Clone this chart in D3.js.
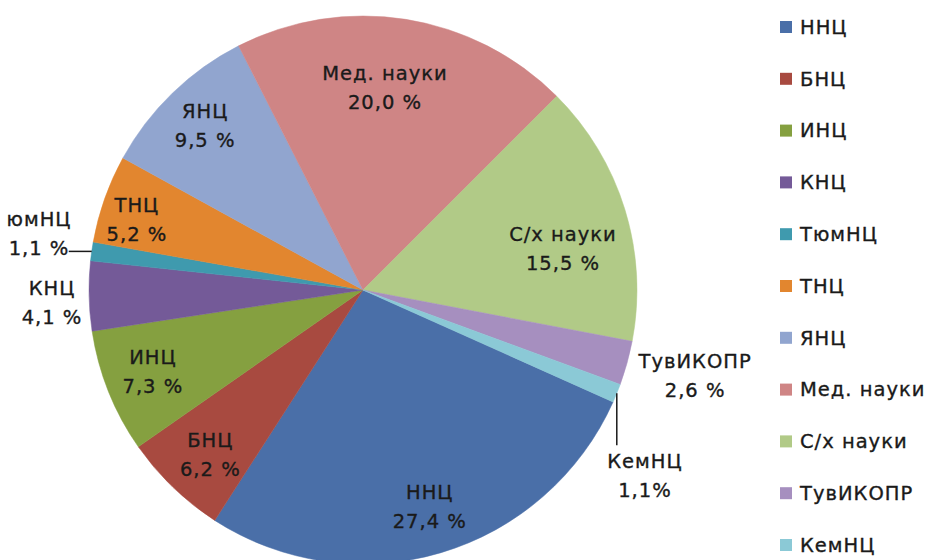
<!DOCTYPE html>
<html>
<head>
<meta charset="utf-8">
<script src="https://cdn.jsdelivr.net/npm/d3@7"></script>
<style>
  html, body { margin: 0; padding: 0; background: #fff; }
  svg { display: block; font-family: "DejaVu Sans", Verdana, sans-serif; }
</style>
</head>
<body>
<svg id="chart" width="932" height="560"></svg>
<script>
// ─── Data ─────────────────────────────────────────────────────────────────────

const categories = ["ННЦ", "БНЦ", "ИНЦ", "КНЦ", "ТюмНЦ", "ТНЦ", "ЯНЦ",
  "Мед. науки", "С/х науки", "ТувИКОПР", "КемНЦ"];
const shares = [27.4, 6.2, 7.3, 4.1, 1.1, 5.2, 9.5, 20.0, 15.5, 2.6, 1.1];
const colors = ["#4a6fa8", "#a84a40", "#85a040", "#745a98", "#3f9aae", "#e2862f",
  "#91a5cf", "#cf8585", "#b1ca87", "#a68fbf", "#8bc9d6"];

// label placement: radius factor, angle nudge (deg), leader type
const labelLayout = [
  { k: 0.826, nudge: -0.6 },
  { k: 0.82, nudge: -1.1 },
  { k: 0.823, nudge: 0.5 },
  { k: 1.136, nudge: -1.1 },
  { k: 1.2, nudge: 1.7, leader: "h", name: "юмНЦ" },
  { k: 0.864, nudge: -2.2 },
  { k: 0.831, nudge: 0.2 },
  { k: 0.742, nudge: -2.8 },
  { k: 0.745, nudge: 5.5 },
  { k: 1.252, nudge: -1.0 },
  { k: 1.233, nudge: 11.3, leader: "v", tight: true },
];

// ─── Pie ──────────────────────────────────────────────────────────────────────

const svg = d3.select("#chart");
const cx = 363, cy = 290, radius = 274;
const startAngle = 114.12 * Math.PI / 180;
const textColor = "#1a1a1a";
const fontSize = "19.5px";

const data = categories.map((name, i) => ({ name, value: shares[i], color: colors[i], layout: labelLayout[i] }));

const pie = d3.pie().value(d => d.value).sort(null)
  .startAngle(startAngle).endAngle(startAngle + 2 * Math.PI);
const arc = d3.arc().innerRadius(0).outerRadius(radius);
const arcs = pie(data);

const g = svg.append("g").attr("transform", `translate(${cx},${cy})`);

g.selectAll("path")
  .data(arcs)
  .join("path")
  .attr("d", arc)
  .attr("fill", d => d.data.color)
  .attr("stroke", d => d.data.color)
  .attr("stroke-width", 0.5);

const fmt = v => d3.format(".1f")(v).replace(".", ",");
const polar = (a, r) => [Math.sin(a) * r, -Math.cos(a) * r];

function styleText(sel) {
  return sel.attr("fill", textColor)
    .attr("stroke", textColor)
    .attr("stroke-width", 0.35)
    .attr("font-size", fontSize)
    .attr("letter-spacing", "1px");
}

// labels
arcs.forEach(d => {
  const L = d.data.layout;
  const mid = (d.startAngle + d.endAngle) / 2;
  const [lx, ly] = polar(mid + L.nudge * Math.PI / 180, radius * L.k);
  const t = g.append("text")
    .attr("text-anchor", "middle")
    .call(styleText);
  t.append("tspan").attr("x", lx).attr("y", ly - 14.5).attr("dy", "0.35em")
    .text(L.name || d.data.name);
  t.append("tspan").attr("x", lx).attr("y", ly + 14.5).attr("dy", "0.35em")
    .text(fmt(d.data.value) + (L.tight ? "%" : " %"));

  if (L.leader) {
    const [ex, ey] = polar(mid, radius);
    const end = L.leader === "h" ? [ex - 23, ey] : [ex, ey + 52];
    g.append("line")
      .attr("x1", ex).attr("y1", ey)
      .attr("x2", end[0]).attr("y2", end[1])
      .attr("stroke", textColor)
      .attr("stroke-width", 1.5);
  }
});

// ─── Legend ───────────────────────────────────────────────────────────────────

const legend = svg.append("g").attr("transform", "translate(780,27)");
const item = legend.selectAll("g")
  .data(data)
  .join("g")
  .attr("transform", (d, i) => `translate(0,${i * 51.8})`);

item.append("rect")
  .attr("x", 0).attr("y", -6)
  .attr("width", 12).attr("height", 12)
  .attr("fill", d => d.color);

item.append("text")
  .attr("x", 20)
  .attr("dy", "0.35em")
  .call(styleText)
  .text(d => d.name);
</script>
</body>
</html>
